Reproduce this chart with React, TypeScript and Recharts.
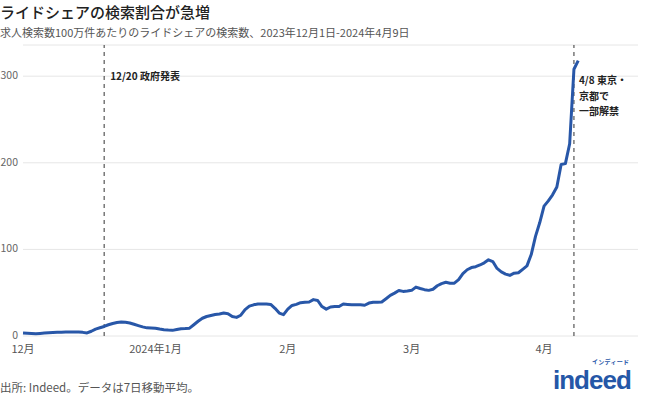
import { CartesianGrid, Line, LineChart, ReferenceLine, XAxis, YAxis } from "recharts";

// 7-day moving average, searches per 1M job searches, one value per day
const DEC_2023 = [
  3.5, 3.2, 2.9, 2.7, 3.0, 3.4, 3.8, 4.0, 4.2, 4.4, 4.6, 4.6, 4.6, 4.6, 4.2, 3.5,
  5.5, 8, 9.5, 11, 13, 14.5, 15.5, 16.2, 15.8, 15, 13.5, 12, 10.5, 9.4, 9.2,
];
const JAN_2024 = [
  9, 8, 7.3, 6.8, 6.5, 7.5, 8.4, 8.6, 9, 13, 17, 20.5, 22.5, 23.7, 24.8, 25.4,
  26.5, 25.8, 22.6, 21.5, 24, 30.5, 34.5, 36, 37, 37, 37, 36.5, 32, 26.5, 24.6,
];
const FEB_2024 = [
  31, 35.3, 36.5, 38.5, 39, 39.3, 42, 41, 34, 31, 33.5, 34, 34, 37, 36.5, 36,
  36, 36, 35.5, 38, 39, 39, 39.3, 43, 47, 49.5, 52.5, 51.5, 52,
];
const MAR_2024 = [
  52.7, 56.5, 54.8, 53.5, 52.7, 54, 58, 60.5, 62, 61, 61, 65, 72, 76.5, 79, 80,
  82, 84.5, 88, 86, 78, 74, 71.5, 70, 72.5, 73, 77, 81, 94, 115, 131,
];
const APR_2024 = [150, 156, 163, 172, 198, 199, 222, 308, 318];

const MONTH_TICKS = [0, 31, 62, 91, 122];
const MONTH_LABELS = ["12月", "2024年1月", "2月", "3月", "4月"];
const Y_TICKS = [0, 100, 200, 300];

const ANNOUNCE_DAY = 19; // 12/20
const LIFT_DAY = 129; // 4/8

const FONT = '"Noto Sans CJK JP", "Noto Sans", sans-serif';
const BLUE = "#2857a8";

const data = [...DEC_2023, ...JAN_2024, ...FEB_2024, ...MAR_2024, ...APR_2024].map((value, day) => ({ day, value }));

function monthLabel(day: number) {
  const i = MONTH_TICKS.indexOf(day);
  return i >= 0 ? MONTH_LABELS[i] : "";
}

function AnnotationLines({ viewBox, lines, dx, dy }: any) {
  const x = (viewBox?.x ?? 0) + dx;
  const y = (viewBox?.y ?? 0) + dy;
  return (
    <text x={x} y={y} fontSize={10} fontWeight={700} fill="#222" fontFamily={FONT}>
      {lines.map((line: string, i: number) => (
        <tspan key={line} x={x} dy={i === 0 ? 0 : 15.5}>
          {line}
        </tspan>
      ))}
    </text>
  );
}

export default function App() {
  return (
    <div style={{ position: "relative", width: 650, height: 402, fontFamily: FONT, background: "#fff" }}>
      <style>{"body{margin:0}"}</style>
      <div style={{ position: "absolute", left: 0, top: 1, fontSize: 15, fontWeight: 500, color: "#222", whiteSpace: "nowrap" }}>
        ライドシェアの検索割合が急増
      </div>
      <div style={{ position: "absolute", left: 0, top: 24, fontSize: 11, color: "#555", whiteSpace: "nowrap" }}>
        求人検索数100万件あたりのライドシェアの検索数、2023年12月1日-2024年4月9日
      </div>

      <LineChart width={650} height={402} data={data} margin={{ top: 45, right: 12, bottom: 46, left: 0 }}>
        <CartesianGrid vertical={false} stroke="#e6e6e6" />
        <XAxis
          dataKey="day"
          type="number"
          domain={[0, 144]}
          ticks={MONTH_TICKS}
          tickFormatter={monthLabel}
          interval={0}
          height={20}
          axisLine={false}
          tickLine={false}
          tickSize={0}
          tickMargin={9}
          tick={{ fill: "#555", fontSize: 11, fontFamily: FONT }}
        />
        <YAxis
          domain={[0, 336]}
          ticks={Y_TICKS}
          width={23}
          axisLine={false}
          tickLine={false}
          tickSize={0}
          tickMargin={5}
          tick={{ fill: "#666", fontSize: 10.5, fontFamily: FONT, dy: -1 }}
        />
        <ReferenceLine
          x={ANNOUNCE_DAY}
          stroke="#333"
          strokeDasharray="4 4"
          label={{ content: (p: any) => <AnnotationLines viewBox={p.viewBox} lines={["12/20 政府発表"]} dx={6} dy={35} /> }}
        />
        <ReferenceLine
          x={LIFT_DAY}
          stroke="#333"
          strokeDasharray="4 4"
          label={{ content: (p: any) => <AnnotationLines viewBox={p.viewBox} lines={["4/8 東京・", "京都で", "一部解禁"]} dx={5} dy={39} /> }}
        />
        <Line
          dataKey="value"
          type="linear"
          stroke={BLUE}
          strokeWidth={3}
          dot={false}
          strokeLinejoin="round"
          isAnimationActive={false}
        />
      </LineChart>

      <div style={{ position: "absolute", left: 0, top: 379, fontSize: 11.5, color: "#555", whiteSpace: "nowrap" }}>
        出所: Indeed。データは7日移動平均。
      </div>
      <div style={{ position: "absolute", left: 592, top: 358, fontSize: 6, fontWeight: 700, color: BLUE, letterSpacing: 0.3, lineHeight: "8px" }}>
        インディード
      </div>
      <div
        style={{
          position: "absolute",
          left: 553,
          top: 367,
          fontSize: 26,
          fontWeight: 700,
          color: "#2557a7",
          fontFamily: '"Liberation Sans", Arial, sans-serif',
          letterSpacing: -1,
          lineHeight: "26px",
        }}
      >
        indeed
      </div>
    </div>
  );
}
